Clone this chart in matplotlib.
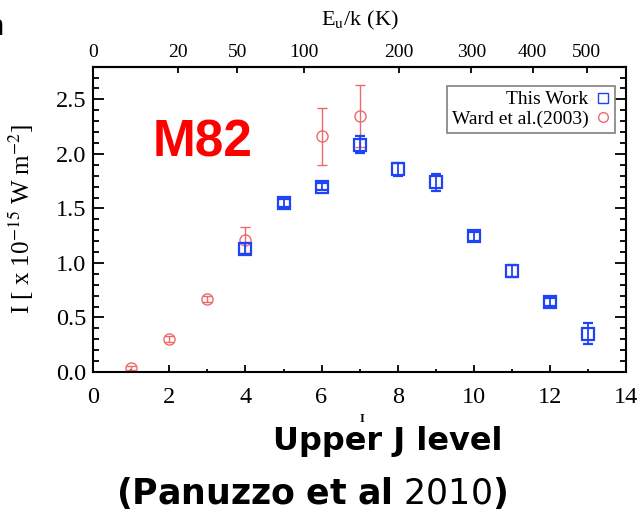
import numpy as np
import matplotlib
matplotlib.use('Agg')
import matplotlib.pyplot as plt
from matplotlib.lines import Line2D
from matplotlib.ticker import MultipleLocator

plt.rcParams['font.family'] = 'Liberation Serif'
plt.rcParams['mathtext.fontset'] = 'stix'

# CO line fluxes (units of 1e-15 W m^-2)
j_this = [4, 5, 6, 7, 8, 9, 10, 11, 12, 13]
flux_this = [1.13, 1.55, 1.70, 2.085, 1.86, 1.74, 1.245, 0.925, 0.64, 0.35]
err_this = [0.05, 0.035, 0.035, 0.08, 0.06, 0.08, 0.04, 0.055, 0.035, 0.095]

j_ward = [1, 2, 3, 4, 6, 7]
flux_ward = [0.034, 0.30, 0.668, 1.21, 2.16, 2.35]
err_ward = [0.02, 0.03, 0.03, 0.12, 0.26, 0.285]

# upper-level energy ticks for the top axis
eu_ticks = [0, 20, 50, 100, 200, 300, 400, 500]
eu_coef = 2.76

blue = '#1f44f5'
red = '#ee6a6a'


def j_to_eu(j):
    return eu_coef * j * (j + 1)


def eu_to_j(e):
    e = np.maximum(e, -eu_coef / 4)
    return (-1 + np.sqrt(1 + 4 * e / eu_coef)) / 2


fig = plt.figure(figsize=(6.39, 5.13), dpi=100)
ax = fig.add_axes([0.146, 0.275, 0.8335, 0.595])

ax.errorbar(j_ward, flux_ward, yerr=err_ward, fmt='o', ms=8, mfc='none',
            mec=red, mew=1.0, ecolor=red, elinewidth=1.0, capsize=3.5,
            capthick=1.0, zorder=2)
ax.errorbar(j_this, flux_this, yerr=err_this, fmt='s', ms=8.5, mfc='none',
            mec=blue, mew=1.6, ecolor=blue, elinewidth=1.3, capsize=3.5,
            capthick=1.3, zorder=3)

ax.set_xlim(0, 14)
ax.set_ylim(0, 2.8)
ax.xaxis.set_major_locator(MultipleLocator(2))
ax.xaxis.set_minor_locator(MultipleLocator(1))
ax.yaxis.set_major_locator(MultipleLocator(0.5))
ax.yaxis.set_minor_locator(MultipleLocator(0.1))
ax.yaxis.set_major_formatter(plt.FormatStrFormatter('%.1f'))

for s in ax.spines.values():
    s.set_linewidth(1.5)

ax.tick_params(axis='x', which='both', direction='in', top=False,
               labelsize=17.5, pad=11, width=1.3)
ax.tick_params(axis='x', which='major', length=5)
ax.tick_params(axis='x', which='minor', length=2.5)
ax.tick_params(axis='y', which='both', direction='in', left=True, right=True,
               labelsize=17.5, pad=5, width=1.3)
ax.tick_params(axis='y', which='major', length=8)
ax.tick_params(axis='y', which='minor', length=4)

ax.set_ylabel(r'I [ x 10$^{-15}$ W m$^{-2}$]', fontsize=18)
ax.yaxis.set_label_coords(-0.107, 0.5)

top = ax.secondary_xaxis('top', functions=(j_to_eu, eu_to_j))
top.set_xticks(eu_ticks)
top.set_xticklabels([str(v) for v in eu_ticks])
top.minorticks_off()
top.tick_params(axis='x', direction='in', length=4.5, width=1.3,
                labelsize=14, pad=4)
top.spines['top'].set_linewidth(1.5)
fig.text(360 / 639, 1 - 20 / 513, r'E$_\mathrm{u}$/k (K)', fontsize=16,
         ha='center', va='center')

handles = [
    Line2D([], [], ls='none', marker='s', ms=7, mfc='none', mec=blue, mew=1.0),
    Line2D([], [], ls='none', marker='o', ms=7, mfc='none', mec=red, mew=1.0),
]
leg = ax.legend(handles, ['This Work', 'Ward et al.(2003)'], loc='upper right',
                bbox_to_anchor=(0.979, 0.937), borderaxespad=0,
                markerfirst=False, fontsize=14, handlelength=0.7,
                handletextpad=0.4, labelspacing=0.1, borderpad=0.25,
                fancybox=False, framealpha=1)
leg.get_frame().set_edgecolor('#808080')
leg.get_frame().set_linewidth(1.2)
for t in leg.get_texts():
    t.set_ha('right')

ax.text(0.2054, 0.705, 'M82', transform=ax.transAxes, color='#ff0000',
        fontsize=37, fontweight='bold', family='Liberation Sans',
        ha='center', va='baseline')

fig.text(387.5 / 639, 1 - 450 / 513, 'Upper J level', fontsize=23,
         fontweight='bold', family='DejaVu Sans', ha='center', va='baseline')
fig.text(311.7 / 639, 1 - 504 / 513,
         r'$\mathbf{(Panuzzo\ et\ al}$ 2010$\mathbf{)}$', fontsize=25,
         family='DejaVu Sans', math_fontfamily='dejavusans',
         ha='center', va='baseline')
fig.text(362 / 639, 1 - 422 / 513, 'I', fontsize=9, fontweight='bold',
         ha='center', va='baseline')
fig.text(3 / 639, 1 - 35 / 513, 'n', fontsize=21, family='Liberation Sans',
         ha='right', va='baseline')

fig.savefig('out.png', dpi=100)
